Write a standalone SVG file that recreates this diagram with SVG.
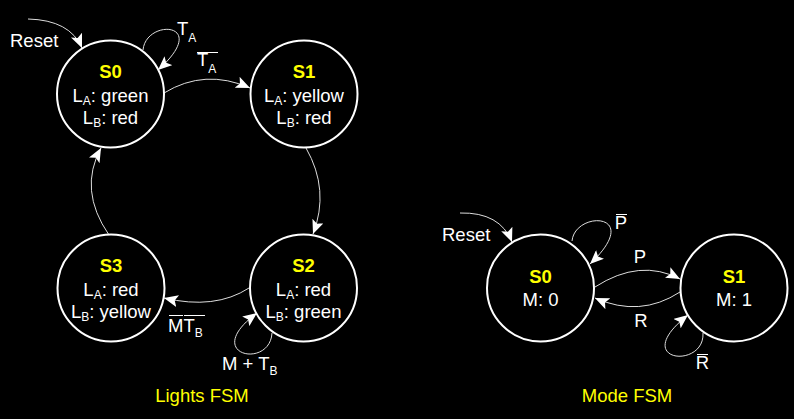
<svg xmlns="http://www.w3.org/2000/svg" width="794" height="419" viewBox="0 0 794 419">
<defs>
<style>
.bg{fill:#000}
.st{fill:none;stroke:#fff;stroke-width:2}
.cn{fill:none;stroke:#ddd;stroke-width:1}
.ob{stroke:#fff;stroke-width:1}
text{font-family:"Liberation Sans",Arial,sans-serif;font-size:18.5px;fill:#fff}
.nm{fill:#ffff00;font-weight:bold;text-anchor:middle}
.c{text-anchor:middle}
.ti{fill:#ffff00;text-anchor:middle}
.sub{font-size:12px}
</style>
<marker id="ah" markerUnits="userSpaceOnUse" markerWidth="16" markerHeight="12" refX="14" refY="6" orient="auto">
<path d="M0,0 L14,6 L0,12 L3,6 Z" fill="#fff"/>
</marker>
</defs>
<rect class="bg" x="0" y="0" width="794" height="419"/>

<g id="connectors">
<path class="cn" d="M28,19 Q70,20 82,48" marker-end="url(#ah)"/>
<path class="cn" d="M143,50 C146,18 212,22 158,70" marker-end="url(#ah)"/>
<path class="cn" d="M164,93 Q205,68 250,88" marker-end="url(#ah)"/>
<path class="cn" d="M306,148 Q330,190 313,234" marker-end="url(#ah)"/>
<path class="cn" d="M249,288 Q215,310 164,298" marker-end="url(#ah)"/>
<path class="cn" d="M272,333 C270,370 200,355 257,313" marker-end="url(#ah)"/>
<path class="cn" d="M109,235 Q78,190 101,148" marker-end="url(#ah)"/>
<path class="cn" d="M460,213 Q500,212 512,242" marker-end="url(#ah)"/>
<path class="cn" d="M572,241 C575,210 645,212 590,264" marker-end="url(#ah)"/>
<path class="cn" d="M595,287 Q640,258 680,279" marker-end="url(#ah)"/>
<path class="cn" d="M680,292 Q640,318 595,298" marker-end="url(#ah)"/>
<path class="cn" d="M703,333 C705,370 628,362 688,315" marker-end="url(#ah)"/>
</g>

<g id="labels">
<text x="10" y="47">Reset</text>
<text x="177" y="35">T<tspan class="sub" dy="7">A</tspan></text>
<text x="197" y="66">T<tspan class="sub" dy="7">A</tspan></text>
<line class="ob" x1="197" y1="52.5" x2="218" y2="52.5"/>
<text x="168" y="332">MT<tspan class="sub" dy="5">B</tspan></text>
<line class="ob" x1="169" y1="315.5" x2="183" y2="315.5"/>
<line class="ob" x1="184" y1="315.5" x2="205" y2="315.5"/>
<text x="222" y="370">M + T<tspan class="sub" dy="5">B</tspan></text>
<text class="ti" x="202" y="402">Lights FSM</text>
<text x="442" y="241">Reset</text>
<text class="c" x="621" y="229">P</text>
<line class="ob" x1="616" y1="214.5" x2="627" y2="214.5"/>
<text class="c" x="640" y="263">P</text>
<text class="c" x="641" y="327">R</text>
<text class="c" x="702.5" y="369">R</text>
<line class="ob" x1="697" y1="354.5" x2="708" y2="354.5"/>
<text class="ti" x="627" y="402">Mode FSM</text>
</g>

<g id="L_S0">
<circle class="st" cx="110.5" cy="94" r="53.5"/>
<text class="nm" x="110.5" y="78">S0</text>
<text class="c" x="110.5" y="102">L<tspan class="sub" dy="3">A</tspan><tspan dy="-3">: green</tspan></text>
<text class="c" x="110.5" y="124">L<tspan class="sub" dy="3">B</tspan><tspan dy="-3">: red</tspan></text>
</g>
<g id="L_S1">
<circle class="st" cx="304" cy="94" r="53.5"/>
<text class="nm" x="304" y="78">S1</text>
<text class="c" x="304" y="102">L<tspan class="sub" dy="3">A</tspan><tspan dy="-3">: yellow</tspan></text>
<text class="c" x="304" y="124">L<tspan class="sub" dy="3">B</tspan><tspan dy="-3">: red</tspan></text>
</g>
<g id="L_S2">
<circle class="st" cx="303.5" cy="288" r="53.5"/>
<text class="nm" x="303.5" y="272">S2</text>
<text class="c" x="303.5" y="296">L<tspan class="sub" dy="3">A</tspan><tspan dy="-3">: red</tspan></text>
<text class="c" x="303.5" y="318">L<tspan class="sub" dy="3">B</tspan><tspan dy="-3">: green</tspan></text>
</g>
<g id="L_S3">
<circle class="st" cx="111" cy="288" r="53.5"/>
<text class="nm" x="111" y="272">S3</text>
<text class="c" x="111" y="296">L<tspan class="sub" dy="3">A</tspan><tspan dy="-3">: red</tspan></text>
<text class="c" x="111" y="318">L<tspan class="sub" dy="3">B</tspan><tspan dy="-3">: yellow</tspan></text>
</g>
<g id="M_S0">
<circle class="st" cx="540.5" cy="288" r="53.5"/>
<text class="nm" x="540.5" y="283">S0</text>
<text class="c" x="540.5" y="306">M: 0</text>
</g>
<g id="M_S1">
<circle class="st" cx="734" cy="288" r="53.5"/>
<text class="nm" x="734" y="283">S1</text>
<text class="c" x="734" y="306">M: 1</text>
</g>
</svg>
